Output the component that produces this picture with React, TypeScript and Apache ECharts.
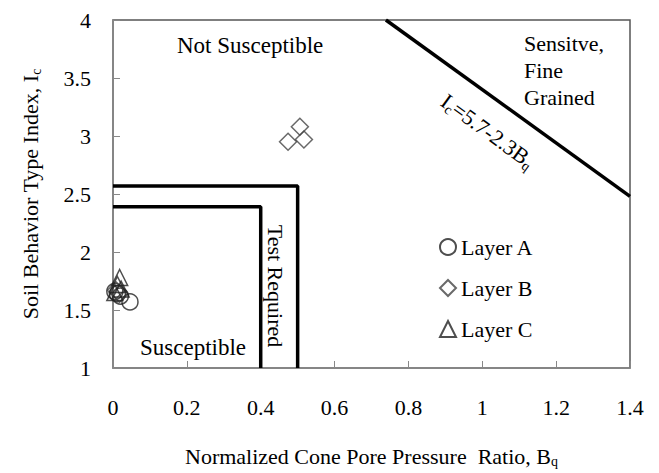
import React, { useEffect, useRef } from "react";
import * as echarts from "echarts";

const xTicks = { min: 0, max: 1.4, interval: 0.2 };
const yTicks = { min: 1, max: 4, interval: 0.5 };

const layerA: number[][] = [[0.005, 1.66], [0.012, 1.64], [0.02, 1.62], [0.046, 1.57]];
const layerB: number[][] = [[0.474, 2.95], [0.506, 3.08], [0.517, 2.97], [0.008, 1.67], [0.018, 1.64]];
const layerC: number[][] = [[0.018, 1.78], [0.012, 1.72], [0.022, 1.68], [0.005, 1.65]];

const outerBoundary: number[][] = [[0, 2.57], [0.5, 2.57], [0.5, 1]];
const innerBoundary: number[][] = [[0, 2.39], [0.4, 2.39], [0.4, 1]];
const fineGrainedLine: number[][] = [[0.739, 4], [1.4, 2.48]];

const FONT = "'Liberation Serif', 'Times New Roman', serif";

export default function App() {
  const ref = useRef<HTMLDivElement>(null);
  useEffect(() => {
    if (!ref.current) return;
    const chart = echarts.init(ref.current, undefined, { renderer: "svg" });
    const markerStyle = { color: "rgba(255,255,255,0)", borderColor: "#222", borderWidth: 1.5 };
    const lineSeries = (data: number[][]) => ({
      type: "line",
      data,
      symbol: "none",
      lineStyle: { color: "#000", width: 3.5 },
      silent: true,
      z: 3,
    });
    chart.setOption({
      animation: false,
      backgroundColor: "#fff",
      textStyle: { fontFamily: FONT, color: "#000" },
      grid: {
        left: 113,
        right: 29,
        top: 20,
        bottom: 103,
        show: true,
        borderColor: "#555",
        borderWidth: 1.5,
      },
      xAxis: {
        type: "value",
        ...xTicks,
        name: "Normalized Cone Pore Pressure  Ratio, B{sub|q}",
        nameLocation: "middle",
        nameGap: 76,
        nameTextStyle: {
          fontFamily: FONT,
          fontSize: 22,
          color: "#000",
          rich: { sub: { fontFamily: FONT, fontSize: 14, verticalAlign: "bottom", padding: [10, 0, 0, 0] } },
        },
        axisLine: { lineStyle: { color: "#888", width: 1.5 } },
        axisTick: { inside: true, length: 7, lineStyle: { color: "#888" } },
        axisLabel: { fontFamily: FONT, fontSize: 22, color: "#000", margin: 28 },
        splitLine: { show: false },
      },
      yAxis: {
        type: "value",
        ...yTicks,
        name: "Soil Behavior Type Index, I{sub|c}",
        nameLocation: "middle",
        nameGap: 70,
        nameTextStyle: {
          fontFamily: FONT,
          fontSize: 22,
          color: "#000",
          rich: { sub: { fontFamily: FONT, fontSize: 14, verticalAlign: "bottom", padding: [12, 0, 0, 0] } },
        },
        axisLine: { show: true, lineStyle: { color: "#888", width: 1.5 } },
        axisTick: { show: true, inside: true, length: 7, lineStyle: { color: "#888" } },
        axisLabel: { fontFamily: FONT, fontSize: 22, color: "#000", margin: 22 },
        splitLine: { show: false },
      },
      legend: {
        orient: "vertical",
        left: 434,
        top: 231,
        itemWidth: 16,
        itemHeight: 16,
        itemGap: 19,
        textStyle: { fontFamily: FONT, fontSize: 22, color: "#000" },
        data: ["Layer A", "Layer B", "Layer C"],
      },
      series: [
        lineSeries(outerBoundary),
        lineSeries(innerBoundary),
        lineSeries(fineGrainedLine),
        { name: "Layer A", type: "scatter", symbol: "circle", symbolSize: 16, data: layerA, itemStyle: markerStyle, z: 5 },
        { name: "Layer B", type: "scatter", symbol: "diamond", symbolSize: 17, data: layerB, itemStyle: { ...markerStyle, borderColor: "#444" }, z: 5 },
        { name: "Layer C", type: "scatter", symbol: "triangle", symbolSize: 16, data: layerC, itemStyle: markerStyle, z: 5 },
      ],
      graphic: [
        { type: "text", left: 177, top: 34, style: { text: "Not Susceptible", font: `23px ${FONT}`, fill: "#000" } },
        { type: "text", left: 140, top: 336, style: { text: "Susceptible", font: `23px ${FONT}`, fill: "#000" } },
        {
          type: "text",
          x: 275,
          y: 286,
          rotation: -Math.PI / 2,
          style: { text: "Test Required", font: `22px ${FONT}`, fill: "#000", align: "center", verticalAlign: "middle" },
        },
        {
          type: "text",
          left: 524,
          top: 30,
          style: { text: "Sensitve,\nFine\nGrained", font: `22px ${FONT}`, lineHeight: 27, fill: "#000" },
        },
        {
          type: "text",
          x: 488,
          y: 131,
          rotation: -0.63,
          style: {
            text: "I{s|c}=5.7-2.3B{s|q}",
            font: `22px ${FONT}`,
            fill: "#000",
            align: "center",
            verticalAlign: "middle",
            rich: { s: { fontFamily: FONT, fontSize: 14, padding: [12, 0, 0, 0] } },
          },
        },
      ],
    });
    return () => chart.dispose();
  }, []);
  return <div ref={ref} style={{ position: "fixed", left: 0, top: 0, width: 659, height: 473 }} />;
}
